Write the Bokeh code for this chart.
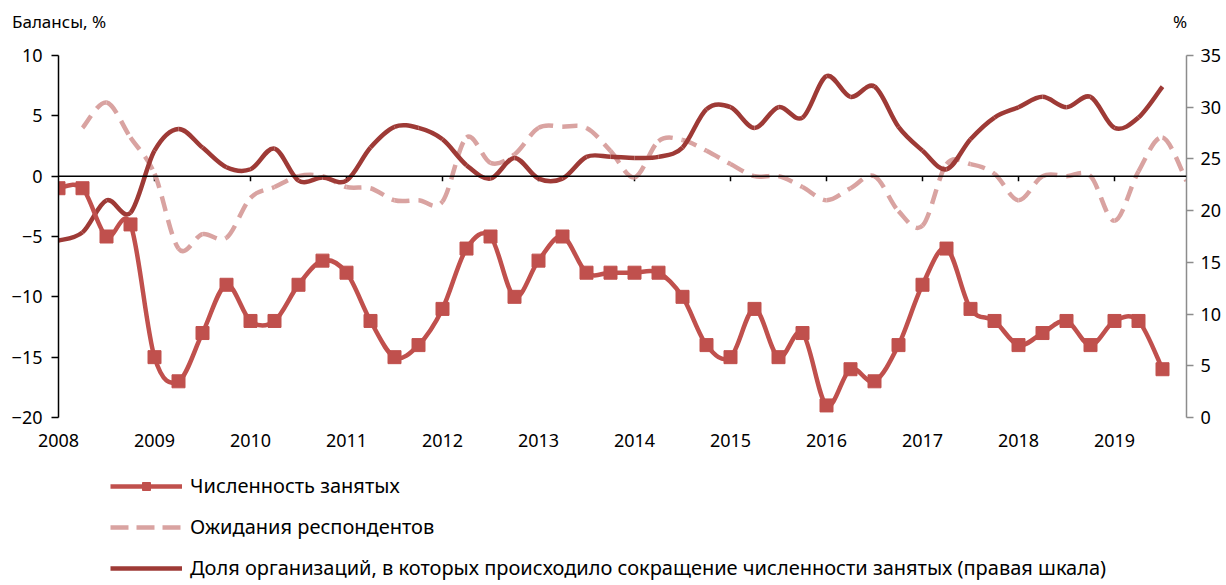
from bokeh.plotting import figure
from bokeh.layouts import column, row
from bokeh.models import (Range1d, LinearAxis, FixedTicker, Legend, LegendItem, Div,
                          Span, ColumnDataSource)
from bokeh.embed import file_html
from bokeh.resources import INLINE

# ---------------- data ----------------
employ_q = ["2008Q1","2008Q2","2008Q3","2008Q4","2009Q1","2009Q2","2009Q3","2009Q4",
            "2010Q1","2010Q2","2010Q3","2010Q4","2011Q1","2011Q2","2011Q3","2011Q4",
            "2012Q1","2012Q2","2012Q3","2012Q4","2013Q1","2013Q2","2013Q3","2013Q4",
            "2014Q1","2014Q2","2014Q3","2014Q4","2015Q1","2015Q2","2015Q3","2015Q4",
            "2016Q1","2016Q2","2016Q3","2016Q4","2017Q1","2017Q2","2017Q3","2017Q4",
            "2018Q1","2018Q2","2018Q3","2018Q4","2019Q1","2019Q2","2019Q3"]
employment = [-1, -1, -5, -4, -15, -17, -13, -9, -12, -12, -9, -7, -8, -12, -15, -14,
              -11, -6, -5, -10, -7, -5, -8, -8, -8, -8, -10, -14, -15, -11, -15, -13,
              -19, -16, -17, -14, -9, -6, -11, -12, -14, -13, -12, -14, -12, -12, -16]

expect_q = ["2008Q2","2008Q3","2008Q4","2009Q1","2009Q2","2009Q3","2009Q4",
            "2010Q1","2010Q2","2010Q3","2010Q4","2011Q1","2011Q2","2011Q3","2011Q4",
            "2012Q1","2012Q2","2012Q3","2012Q4","2013Q1","2013Q2","2013Q3","2013Q4",
            "2014Q1","2014Q2","2014Q3","2014Q4","2015Q1","2015Q2","2015Q3","2015Q4",
            "2016Q1","2016Q2","2016Q3","2016Q4","2017Q1","2017Q2","2017Q3","2017Q4",
            "2018Q1","2018Q2","2018Q3","2018Q4","2019Q1","2019Q2","2019Q3","2019Q4"]
expectations = [4.0, 6.1, 3.2, 0.2, -6.0, -4.8, -5.1, -1.8, -0.9, 0.0, 0.0,
                -0.9, -1.0, -2.0, -2.0, -2.1, 3.2, 1.1, 1.8, 4.0, 4.1, 4.0, 2.1,
                -0.1, 2.9, 3.0, 2.1, 1.0, 0.0, 0.0, -0.9, -2.0, -1.0, 0.0, -2.9,
                -4.1, 1.0, 1.0, 0.2, -2.0, 0.0, 0.0, 0.0, -3.7, 0.4, 3.2, -0.4]

share_q = employ_q
share_cut = [17.1, 17.9, 21.0, 19.8, 25.8, 27.9, 26.1, 24.2, 24.0, 26.0, 22.9, 23.2,
             22.9, 26.1, 28.1, 28.0, 26.9, 24.4, 23.1, 25.1, 23.1, 23.1, 25.2, 25.2,
             25.1, 25.2, 26.1, 29.8, 30.0, 28.0, 30.0, 29.0, 33.0, 31.0, 32.0, 28.1,
             25.8, 24.0, 26.9, 29.0, 30.0, 31.0, 30.0, 31.0, 28.0, 29.0, 32.0]

years = list(range(2008, 2020))
left_ticks = [-20, -15, -10, -5, 0, 5, 10]
right_ticks = [0, 5, 10, 15, 20, 25, 30, 35]

name_employ = "Численность занятых"
name_expect = "Ожидания респондентов"
name_share = "Доля организаций, в которых происходило сокращение численности занятых (правая шкала)"
title_left = "Балансы, %"
title_right = "%"

# ---------------- helpers ----------------
def qnum(q):
    return int(q[:4]) + (int(q[5]) - 1) / 4.0

def bezier_source(xs, ys):
    n = len(xs)
    d = dict(x0=[], y0=[], x1=[], y1=[], cx0=[], cy0=[], cx1=[], cy1=[])
    for i in range(n - 1):
        p0 = (xs[max(i - 1, 0)], ys[max(i - 1, 0)])
        p1 = (xs[i], ys[i])
        p2 = (xs[i + 1], ys[i + 1])
        p3 = (xs[min(i + 2, n - 1)], ys[min(i + 2, n - 1)])
        d["x0"].append(p1[0]); d["y0"].append(p1[1])
        d["x1"].append(p2[0]); d["y1"].append(p2[1])
        d["cx0"].append(p1[0] + (p2[0] - p0[0]) / 6.0)
        d["cy0"].append(p1[1] + (p2[1] - p0[1]) / 6.0)
        d["cx1"].append(p2[0] - (p3[0] - p1[0]) / 6.0)
        d["cy1"].append(p2[1] - (p3[1] - p1[1]) / 6.0)
    return ColumnDataSource(d)

FONT = "Noto Sans"
C_EMP = "#c0504d"
C_EXP = "#d9a3a1"
C_SHARE = "#9e3a36"
LW = 4.5
DASH = "15 9"

# ---------------- header (axis titles) ----------------
txt_style = {"font-family": "Noto Sans", "font-size": "17px", "color": "black",
             "line-height": "20px", "white-space": "nowrap"}
head = row(Div(text=title_left, width=1161, height=25, margin=(12, 0, 0, 12), styles=txt_style),
           Div(text=title_right, width=40, height=25, margin=(12, 0, 0, 0), styles=txt_style),
           spacing=0)

# ---------------- main plot ----------------
p = figure(width=1226, height=433, output_backend="svg", toolbar_location=None,
           x_range=Range1d(2008, 2019.75), y_range=Range1d(-20, 10),
           min_border_left=58, min_border_right=40, min_border_top=18, min_border_bottom=53)
p.extra_y_ranges = {"right": Range1d(0, 35)}
p.outline_line_color = None
p.xgrid.visible = False
p.ygrid.visible = False

xa = p.xaxis[0]
xa.ticker = FixedTicker(ticks=years)
xa.axis_line_color = None
xa.major_tick_line_color = None
xa.minor_tick_line_color = None
xa.major_label_text_font = FONT
xa.major_label_text_font_size = "18px"
xa.major_label_text_color = "black"
xa.major_label_standoff = 10

ya = p.yaxis[0]
ya.ticker = FixedTicker(ticks=left_ticks)
ya.axis_line_color = "black"
ya.axis_line_width = 1.5
ya.major_tick_line_color = "black"
ya.major_tick_line_width = 1.5
ya.major_tick_in = 0
ya.major_tick_out = 7
ya.minor_tick_line_color = None
ya.major_label_text_font = FONT
ya.major_label_text_font_size = "18px"
ya.major_label_text_color = "black"
ya.major_label_standoff = 9

ra = LinearAxis(y_range_name="right", ticker=FixedTicker(ticks=right_ticks))
ra.axis_line_color = "#8c8c8c"
ra.axis_line_width = 1.5
ra.major_tick_line_color = "#8c8c8c"
ra.major_tick_line_width = 1.5
ra.major_tick_in = 0
ra.major_tick_out = 7
ra.minor_tick_line_color = None
ra.major_label_text_font = FONT
ra.major_label_text_font_size = "18px"
ra.major_label_text_color = "black"
ra.major_label_standoff = 7
p.add_layout(ra, "right")

p.add_layout(Span(location=0, dimension="width", line_color="black", line_width=1.5))
p.segment(x0=years[1:], y0=[0] * (len(years) - 1), x1=years[1:], y1=[-0.42] * (len(years) - 1),
          line_color="black", line_width=1.5)

ex_x = [qnum(q) for q in expect_q]
p.bezier(source=bezier_source(ex_x, expectations), x0="x0", y0="y0", x1="x1", y1="y1",
         cx0="cx0", cy0="cy0", cx1="cx1", cy1="cy1",
         line_color=C_EXP, line_width=LW, line_dash=DASH)

sh_x = [qnum(q) for q in share_q]
p.bezier(source=bezier_source(sh_x, share_cut), x0="x0", y0="y0", x1="x1", y1="y1",
         cx0="cx0", cy0="cy0", cx1="cx1", cy1="cy1",
         line_color=C_SHARE, line_width=LW, y_range_name="right")

em_x = [qnum(q) for q in employ_q]
p.bezier(source=bezier_source(em_x, employment), x0="x0", y0="y0", x1="x1", y1="y1",
         cx0="cx0", cy0="cy0", cx1="cx1", cy1="cy1",
         line_color=C_EMP, line_width=LW)
p.scatter(em_x, employment, marker="square", size=13, fill_color=C_EMP, line_color=C_EMP)

# ---------------- legend figure ----------------
lf = figure(width=1226, height=115, output_backend="svg", toolbar_location=None,
            x_range=Range1d(0, 1), y_range=Range1d(0, 1),
            min_border=0, min_border_left=58, min_border_right=40,
            min_border_top=0, min_border_bottom=0)
lf.axis.visible = False
lf.grid.visible = False
lf.outline_line_color = None

# the series themselves (outside this panel's view) serve as legend glyph sources
lg_em = lf.line(em_x, employment, line_color=C_EMP, line_width=LW)
lg_em_m = lf.scatter(em_x, employment, marker="square", size=13, fill_color=C_EMP,
                     line_color=C_EMP)
lg_ex = lf.line(ex_x, expectations, line_color=C_EXP, line_width=LW, line_dash="18 8")
lg_sh = lf.line(sh_x, share_cut, line_color=C_SHARE, line_width=LW)

legend = Legend(items=[LegendItem(label=name_employ, renderers=[lg_em, lg_em_m]),
                       LegendItem(label=name_expect, renderers=[lg_ex]),
                       LegendItem(label=name_share, renderers=[lg_sh])],
                location=(52, 4), orientation="vertical",
                glyph_width=72, glyph_height=20, label_standoff=8, spacing=14,
                padding=0, margin=0, border_line_color=None, background_fill_alpha=0,
                label_text_font=FONT, label_text_font_size="20px", label_text_color="black",
                label_height=20)
lf.add_layout(legend)

layout = column(head, p, lf, spacing=0)
open("out.html", "w").write(file_html(layout, INLINE))
